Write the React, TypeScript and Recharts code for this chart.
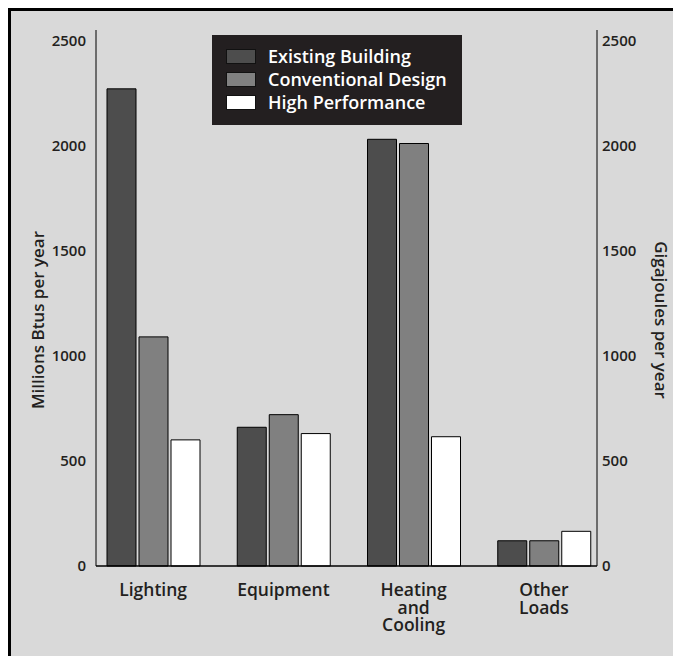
import { BarChart, Bar, XAxis, YAxis, Legend, Label } from "recharts";

// values (millions of Btus per year)
const categories = ["Lighting", "Equipment", "Heating\nand\nCooling", "Other\nLoads"];
const existingBuilding = [2270, 660, 2030, 120];
const conventionalDesign = [1090, 720, 2010, 120];
const highPerformance = [600, 630, 615, 165];
const yTicks = [0, 500, 1000, 1500, 2000, 2500];
const seriesNames = ["Existing Building", "Conventional Design", "High Performance"];

const data = categories.map((name, i) => ({
  name,
  existing: existingBuilding[i],
  conventional: conventionalDesign[i],
  high: highPerformance[i],
}));

const FONT = "'Open Sans', sans-serif";
const INK = "#231f20";

function CategoryTick(props: any) {
  const { x, y, payload } = props;
  const lines = String(payload.value).split("\n");
  return (
    <text x={x} y={y} textAnchor="middle" fill={INK} fontSize={17.5} fontWeight={600} fontFamily={FONT}>
      {lines.map((line, i) => (
        <tspan key={i} x={x} dy={i === 0 ? 22 : 17.5}>
          {line}
        </tspan>
      ))}
    </text>
  );
}

function LegendBox(props: any) {
  // keep the series order, recharts sorts legend items by name
  const items = [...(props.payload || [])].sort(
    (a: any, b: any) => seriesNames.indexOf(a.value) - seriesNames.indexOf(b.value)
  );
  return (
    <div
      style={{
        background: INK,
        width: 250,
        height: 90,
        boxSizing: "border-box",
        padding: "10px 0 0 14px",
        fontFamily: FONT,
      }}
    >
      {items.map((entry: any) => (
        <div key={entry.value} style={{ display: "flex", alignItems: "center", height: 23 }}>
          <span
            style={{
              display: "inline-block",
              width: 28,
              height: 13,
              background: entry.color,
              border: "1px solid #111",
              marginRight: 12,
            }}
          />
          <span style={{ color: "#fff", fontSize: 18, fontWeight: 600, lineHeight: "23px" }}>{entry.value}</span>
        </div>
      ))}
    </div>
  );
}

export default function App() {
  return (
    <div
      style={{
        position: "absolute",
        left: 8,
        top: 8,
        width: 662,
        height: 645,
        borderLeft: "3px solid #000",
        borderTop: "3px solid #000",
        background: "#d9d9d9",
        fontFamily: FONT,
      }}
    >
      <BarChart
        width={662}
        height={645}
        data={data}
        margin={{ top: 19, right: 16, bottom: 30, left: 15 }}
        barSize={29}
        barGap={3}
      >
        <XAxis
          dataKey="name"
          height={60}
          padding={{ left: -8, right: -12 }}
          tickLine={false}
          axisLine={{ stroke: "#000", strokeWidth: 1.5 }}
          interval={0}
          tick={<CategoryTick />}
        />
        <YAxis
          yAxisId="left"
          width={70}
          domain={[0, 2550]}
          ticks={yTicks}
          tickLine={false}
          tickMargin={4}
          axisLine={{ stroke: "#000" }}
          tick={{ fill: INK, fontSize: 15, fontWeight: 600, fontFamily: FONT }}
        >
          <Label
            content={(p: any) => {
              const vb = p.viewBox;
              const cx = vb.x + 11.5;
              const cy = vb.y + vb.height / 2 + 22;
              return (
                <text
                  transform={`translate(${cx}, ${cy}) rotate(-90)`}
                  textAnchor="middle"
                  dominantBaseline="central"
                  fill={INK}
                  fontSize={17}
                  fontWeight={600}
                  fontFamily={FONT}
                >
                  Millions Btus per year
                </text>
              );
            }}
          />
        </YAxis>
        <YAxis
          yAxisId="right"
          orientation="right"
          width={60}
          domain={[0, 2550]}
          ticks={yTicks}
          tickLine={false}
          tickSize={3}
          tickMargin={2}
          axisLine={{ stroke: "#000" }}
          tick={{ fill: INK, fontSize: 15, fontWeight: 600, fontFamily: FONT }}
        >
          <Label
            content={(p: any) => {
              const vb = p.viewBox;
              const cx = vb.x + 64;
              const cy = vb.y + vb.height / 2 + 22;
              return (
                <text
                  transform={`translate(${cx}, ${cy}) rotate(90)`}
                  textAnchor="middle"
                  dominantBaseline="central"
                  fill={INK}
                  fontSize={17}
                  fontWeight={600}
                  fontFamily={FONT}
                >
                  Gigajoules per year
                </text>
              );
            }}
          />
        </YAxis>
        <Legend
          layout="vertical"
          align="center"
          verticalAlign="middle"
          wrapperStyle={{ top: 24, left: 201, width: 250, height: 90 }}
          content={<LegendBox />}
        />
        <Bar yAxisId="left" dataKey="existing" name={seriesNames[0]} fill="#4d4d4d" stroke="#000" strokeWidth={1} isAnimationActive={false} />
        <Bar yAxisId="left" dataKey="conventional" name={seriesNames[1]} fill="#808080" stroke="#000" strokeWidth={1} isAnimationActive={false} />
        {/* same scale on both axes; this series also anchors the Gigajoules axis */}
        <Bar yAxisId="right" dataKey="high" name={seriesNames[2]} fill="#ffffff" stroke="#000" strokeWidth={1} isAnimationActive={false} />
      </BarChart>
    </div>
  );
}
